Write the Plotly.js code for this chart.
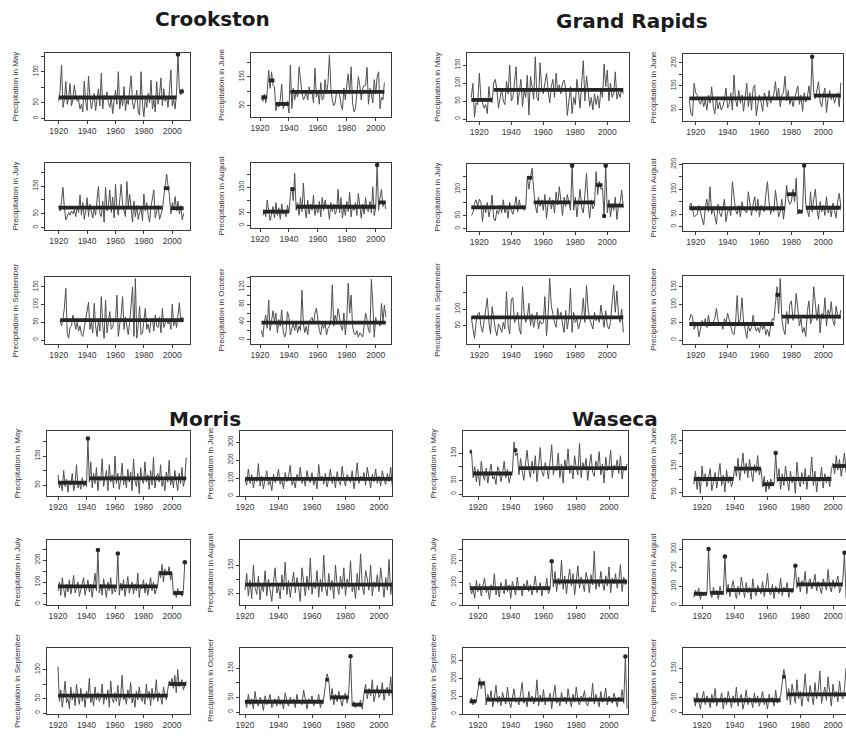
<!DOCTYPE html>
<html>
<head>
<meta charset="utf-8">
<script src="https://cdn.plot.ly/plotly-3.0.1.min.js"></script>
<style>
  html, body { margin: 0; padding: 0; background: #fff; overflow: hidden; }
  #chart { width: 846px; height: 737px; }
</style>
</head>
<body>
<div id="chart"></div>
<script>
// Monthly precipitation series (one value per year) with change-point segment means.
// Each series has a first year; segments are [firstYear, lastYear, mean].

// ---------- Crookston ----------
const crookstonMayStart = 1920;
const crookstonMay = [55,90,171,35,60,118,45,70,112,40, 60,107,75,55,60,30,45,20,120,55,
  25,136,70,30,55,80,25,60,95,40, 145,30,75,60,85,50,35,70,15,55, 90,45,150,30,70,40,102,25,60,45,
  85,137,50,30,60,90,20,10,150,45, 5,70,35,80,50,123,30,60,20,118, 45,75,130,40,95,55,70,35,90,155,
  40,60,30,85,205,90,75,95,84];
const crookstonMaySegments = [[1920,2003,67],[2004,2004,205],[2005,2008,86]];

const crookstonJuneStart = 1921;
const crookstonJune = [78,65,90,60,100,173,110,167,120,115, 33,60,45,70,124,40,55,50,65,25,
  190,40,110,70,100,80,184,130,95,70, 80,100,70,115,90,95,60,179,80,100, 55,130,70,75,140,90,130,225,110,70,
  50,60,100,95,90,55,35,110,70,120, 160,90,184,60,29,40,90,150,120,70, 110,120,120,182,55,110,90,60,140,90,
  150,167,40,80,70,130];
const crookstonJuneSegments = [[1921,1925,79],[1926,1930,137],[1931,1940,56],[1941,2006,98]];

const crookstonJulyStart = 1920;
const crookstonJuly = [80,60,95,145,70,28,40,55,45,60, 50,65,40,75,55,118,45,90,30,60,
  108,40,85,55,35,70,45,100,148,50, 40,95,20,145,60,80,136,55,110,35, 156,70,45,100,156,85,60,40,166,75,
  120,65,20,95,40,80,30,55,70,25, 121,60,90,45,20,75,100,136,35,60, 80,30,50,65,110,145,193,150,115,50,
  90,70,112,60,95,50,80,28,52];
const crookstonJulySegments = [[1920,1993,72],[1994,1998,142],[1999,2008,70]];

const crookstonAugustStart = 1922;
const crookstonAugust = [40,55,35,100,60,20,45,75,30, 90,40,70,25,85,45,60,35,80,50,
  120,150,98,205, 60,90,40,110,55,166, 70,30,100,45,85,60,120,40,75,50, 95,35,110,60,100,70,70,25,90,55,
  85,45,60,142,50,110,30,75,40,95, 55,130,35,80,60,90,40,126,65,30, 85,45,110,60,55,95,50,152,40,70,
  237, 60,110,142,75,95,65];
const crookstonAugustSegments = [[1922,1940,55],[1941,1944,143],[1945,2000,74],[2001,2001,237],[2002,2007,91]];

const crookstonSeptemberStart = 1921;
const crookstonSeptember = [55,40,60,90,145,20,5,35,40,70, 55,30,50,25,40,15,10,35,60,94,
  106,30,50,20,103,40,10,60,25,122, 40,5,112,20,45,80,30,35,60,50, 126,10,45,70,122,30,65,40,15,50,
  95,150,10,173,5,40,94,15,20,60, 89,30,45,20,55,60,25,70,40,35, 65,20,89,35,50,60,45,55,30,101,
  40,60,35,70,105,50,65,60];
const crookstonSeptemberSegments = [[1921,2008,56]];

const crookstonOctoberStart = 1921;
const crookstonOctober = [20,5,40,55,25,90,20,50,65,40, 60,15,45,30,67,20,5,15,63,50,
  10,25,35,20,40,15,30,20,112,35, 15,30,10,40,45,50,35,60,71,45, 20,10,35,25,40,10,25,30,45,124,
  30,55,40,70,45,30,20,60,10,45, 128,60,101,30,15,10,20,5,15,10, 5,30,60,45,20,15,137,80,5,50,
  35,40,30,82,40,78,50];
const crookstonOctoberSegments = [[1921,2007,38]];

// ---------- Grand Rapids ----------
const grandRapidsMayStart = 1915;
const grandRapidsMay = [60,99,5,45,40,127,60,45,30,40,15,90,50,45,
  100,110, 80,30,60,85,50,40,105,70,150,50, 60,100,145,40,70,110,35,80,60,122,
  11,118,90,55,173,60,50,156,85,70, 100,127,80,45,90,110,60,127,75,95, 70,100,108,85,10,55,90,15,60,40,
  110,75,30,100,162,50,120,80,35,60, 25,70,40,65,30,85,60,153,90,136, 50,100,60,70,131,55,75,60,85,70];
const grandRapidsMaySegments = [[1915,1928,53],[1929,2010,81]];

const grandRapidsJuneStart = 1916;
const grandRapidsJune = [90,30,20,161,120, 110,85,70,100,60,90,45,110,75,146, 60,30,100,50,80,45,60,90,140,55,
  70,120,45,197,90,60,130,75,110,40, 90,161,60,120,45,140,154,20,70,110, 80,40,120,100,60,130,75,95,115,168,
  90,140,60,110,120,192,85,130,70,100, 60,95,130,150,70,110,40,120,80,100, 150,90, 276,
  120,95,130,168,80,60,110,140,35,100,130,90,115,75,100,120,60,164];
const grandRapidsJuneSegments = [[1916,1992,96],[1993,1993,276],[1994,2011,108]];

const grandRapidsJulyStart = 1915;
const grandRapidsJuly = [50,60,95,110,85,112,100,27,90,60, 100,45,75,128,40,30,70,55,90,60,
  110,60,85,40,100,70,55,95,122,65, 110,75,90,70,80, 200,150,195,230,
  147,90,60,120,85,110,70,130,40,95,120,75,110,60,140,90,160,110,50,120,85,130,100,70, 240,
  70,120,45,100,150,80,60,130,211,95,40,110,75,90, 217,130,180,150,155, 48, 240,
  60,110,45,95,70,120,35,90,100,147,80];
const grandRapidsJulySegments = [[1915,1949,81],[1950,1953,194],[1954,1977,100],[1978,1978,240],
  [1979,1992,100],[1993,1997,166],[1998,1998,48],[1999,1999,240],[2000,2010,88]];

const grandRapidsAugustStart = 1916;
const grandRapidsAugust = [80,95,70,40,45,50,85,60,30,7, 75,110,60,160,50,80,40,10,90,55,
  40,70,110,20,60,75,45,180,110,65, 50,85,40,100,70,60,55,140,80,45, 90,120,60,110,40,85,70,60,130,180,
  95,50,75,60,147,85,40,60,110,30,80, 167,110,90,100,150,100,194, 50,70,60,60, 245,
  90,60,40,140,60,110,150,70,30,100,60,85,45,120,55,80,40,95,65,35,100,134,80];
const grandRapidsAugustSegments = [[1916,1976,74],[1977,1983,130],[1984,1987,60],[1988,1988,245],[1989,2011,76]];

const grandRapidsSeptemberStart = 1915;
const grandRapidsSeptember = [75,40,12,60,85,90,50,30,70,95, 132,60,25,107,70,40,20,55,45,30,
  60,40,152,50,25,130,134,60,70,90, 40,25,167,90,60,75,117,50,85,45, 70,90,40,65,55,60,137,20,80,192,
  110,80,60,45,102,70,90,55,30,95, 40,75,162,30,90,60,70,40,60,80, 132,60,170,100,70,55,40,90,65,80,
  60,112,70,45,95,50,40,60,120,172, 90,154,85,60,100,30];
const grandRapidsSeptemberSegments = [[1915,2010,75]];

const grandRapidsOctoberStart = 1916;
const grandRapidsOctober = [55,72,65,30,40,45,9,30,55,40, 60,35,70,40,45,50,60,89,55,40,
  50,30,60,45,75,60,40,20,15,50, 125,40,60,119,50,30,5,40,25,35, 70,40,25,35,20,50,30,45,15,30, 10,40,60,55,
  110,150,75,173, 60,30,15,80,45,100,110,55,70,131, 90,40,60,20,35,10,80,110,45,60,
  150,90,55,100,20,75,60,119,40,85, 70,108,55,40,95,70,60,85];
const grandRapidsOctoberSegments = [[1916,1969,45],[1970,1973,127],[1974,2011,66]];

// ---------- Morris ----------
const morrisMayStart = 1920;
const morrisMay = [85,40,60,30,100,45,70,25,65,50, 90,30,55,120,40,60,35,75,45,55, 45, 210,
  60,130,40,90,55,110,30,80,65,140, 45,75,100,30,120,60,85,40,150,55, 90,35,70,125,50,80,40,105,60,95,
  30,140,65,45,90,20,110,70,55,130, 60,85,35,100,50,145,40,75,90,60, 120,45,70,30,95,60,135,50,80,40,
  100,65,30,90,55,110,45,70,145];
const morrisMaySegments = [[1920,1940,58],[1941,1941,210],[1942,2010,73]];

const morrisJuneStart = 1920;
const morrisJune = [90,60,150,70,120,45,100,80,180,55, 110,40,95,140,60,85,30,120,75,100,
  150,65,95,40,130,80,110,170,60,90, 45,120,85,160,70,100,55,140,90,75, 130,60,100,40,175,85,110,65,125,50,
  95,150,70,110,45,135,80,60,165,90, 55,120,100,75,140,40,95,185,70,110, 85,130,60,160,100,45,120,80,150,70,
  110,55,140,90,65,125,80,160,50,100,85];
const morrisJuneSegments = [[1920,2010,95]];

const morrisJulyStart = 1920;
const morrisJuly = [60,100,40,120,70,30,90,55,110,45, 80,130,50,70,100,35,60,95,120,40,
  75,110,55,90,30,85,140,60, 245, 50,90,40,115,70,30,100,60,120,45,85,55,70, 230,
  40,95,60,110,35,80,125,50,70,100,45,90,60,140,30,85,70,110,50,95,40,80,120,60,100,45,75,90,
  150,120,180,100,160,130,140,170,110,140, 40,60,30,70,45,55,35,65, 190];
const morrisJulySegments = [[1920,1947,80],[1948,1948,245],[1949,1961,80],[1962,1962,230],[1963,1990,80],
  [1991,2000,140],[2001,2008,50],[2009,2009,190]];

const morrisAugustStart = 1920;
const morrisAugust = [60,120,40,95,30,150,70,45,110,25, 85,55,130,40,100,65,20,90,140,50,
  75,30,115,60,160,45,95,35,80,125, 50,105,70,20,140,85,40,110,60,175, 45,90,65,130,35,100,55,185,70,40,
  120,60,95,30,150,80,45,110,65,140, 40,100,70,165,55,85,30,120,60,190, 75,45,130,100,60,150,40,90,70,115,
  55,140,80,35,105,60,170,45,95,65,120];
const morrisAugustSegments = [[1920,2010,80]];

const morrisSeptemberStart = 1920;
const morrisSeptember = [160,40,80,20,60,110,35,50,15,90, 45,70,25,100,55,30,85,40,65,20,
  75,50,120,35,60,25,90,45,70,40, 55,100,30,65,45,80,20,110,50,35, 70,40,95,25,60,130,45,55,30,80,
  50,105,35,60,20,75,45,90,55,40, 65,30,100,50,75,25,85,45,60,115, 40,70,55,30,90,60,45,80,110,95,
  120,85,130,70,150,90,100,115,80,95,110];
const morrisSeptemberSegments = [[1920,1997,60],[1998,2010,100]];

const morrisOctoberStart = 1920;
const morrisOctober = [40,15,60,25,45,10,70,30,20,50, 35,5,55,25,40,60,15,30,45,20,
  55,25,40,10,65,35,20,50,30,45, 15,60,30,40,25,75,35,10,45,30, 55,20,40,30,60,15,35,45,
  90,130,110, 40,80,25,60,35,70,45,20,55,65,30,75, 190, 20,35,15,30,25,40,10,
  60,95,45,80,55,110,35,70,90,50,65,100,40,75,85,55,120,45,70,80];
const morrisOctoberSegments = [[1920,1967,35],[1968,1970,110],[1971,1982,50],[1983,1983,190],[1984,1990,25],[1991,2010,70]];

// ---------- Waseca ----------
const wasecaMayStart = 1915;
const wasecaMay = [150,160, 60,100,45,90,30,120,70,50,95,40,80,110,55,65,35,100,85,45,75,120,60,90,40,70,80,
  190,140,150,
  70,130,85,50,110,160,90,60,120,75, 140,45,100,170,80,65,115,95,55,135, 180,70,100,85,150,60,110,40,125,90,
  165,75,105,55,140,95,70,185,60,115, 90,130,50,100,145,80,65,120,95,155, 70,110,40,135,85,100,160,60,105,90,
  125,75,140,55,100,85,110];
const wasecaMaySegments = [[1915,1916,155],[1917,1941,75],[1942,1944,160],[1945,2011,95]];

const wasecaJuneStart = 1915;
const wasecaJune = [80,130,60,110,45,150,90,120,70,100,140,55,95,125,65,105,160,75,115,50,135,85,110,70,95,
  150,110,180,95,140,200,120,160,105,175,130,90,155,125,190,115,140,
  70,110,50,95,60,100,75,80, 200,
  90,140,60,120,75,150,100,55,130,85,110,45,165,95,70,125,80,140,60,115,100,185,75,130,50,105,90,145,65,120,85,110,70,135,
  160,120,190,135,175,110,150,200,125,145,170,115];
const wasecaJuneSegments = [[1915,1939,100],[1940,1956,140],[1957,1964,80],[1965,1965,200],[1966,1999,100],[2000,2011,150]];

const wasecaJulyStart = 1915;
const wasecaJuly = [100,50,70,30,110,60,95,40,85,120, 55,75,25,90,65,140,45,80,35,100,
  70,50,115,60,90,30,105,75,45,125, 65,85,40,95,70,110,60,90,45,80, 130,55,75,100,40,85,65,120,50,70,
  195,
  80,150,60,120,90,200,70,130,50,110, 160,85,140,45,100,175,75,125,95,60, 145,110,55,135,90,240,70,115,80,150,
  100,65,130,85,170,55,120,95,140,75, 110,180,60,125,90,105];
const wasecaJulySegments = [[1915,1964,75],[1965,1965,195],[1966,2011,105]];

const wasecaAugustStart = 1915;
const wasecaAugust = [40,80,55,90,30,70,50,65,60, 300, 70,40,95,55,80,30,100,60,55, 260,
  60,110,45,90,130,70,35,100,55,150,80,40,120,65,95,30,140,75,50,105,85,60,125,45,90,170,70,55,110,35,100,80,60,145,50,95,75,120,40,85,65,100,
  210,
  90,150,70,130,100,180,60,120,140,85,110,165,75,125,95,60,140,115,80,190,100,70,135,90,120,155,65,105,130,
  280, 40,60,45,55];
const wasecaAugustSegments = [[1915,1923,60],[1924,1924,300],[1925,1933,65],[1934,1934,260],[1935,1976,80],
  [1977,1977,210],[1978,2006,110],[2007,2007,280],[2008,2011,50]];

const wasecaSeptemberStart = 1915;
const wasecaSeptember = [60,90,50,80,70, 150,200,140,180,180,
  50,110,70,130,40,90,160,60,100,45, 120,80,55,150,70,35,95,140,65,85, 50,110,175,60,90,40,125,70,100,55,
  80,190,45,105,65,135,50,90,75,115, 30,100,160,60,85,45,120,70,95,55, 140,80,40,110,65,150,75,50,100,85,
  130,60,45,95,70,170,55,110,80,40, 125,65,90,145,50,100,75,60,115,85, 40,95,70,135,60,
  320, 30];
const wasecaSeptemberSegments = [[1915,1919,70],[1920,1924,170],[1925,2009,80],[2010,2010,320]];

const wasecaOctoberStart = 1915;
const wasecaOctober = [50,20,65,35,10,45,70,25,55,40,15,60,30,80,20,45,35,65,10,50,25,70,40,15,55,30,85,
  20,45,60,10,35,75,25,50,40,15,65,30,55,20,45,70,25,40,10,60,35,50,20,75,30,45,55,
  100,145,115,
  40,80,25,95,55,30,110,45,70,20,65,130,50,35,90,60,25,100,45,75,140,30,55,85,40,120,65,20,95,50,70,35,105,60,45,80,150,40,70,55];
const wasecaOctoberSegments = [[1915,1968,40],[1969,1971,120],[1972,2011,60]];

// ---------- Station titles and month labels ----------
const stations = ['Crookston', 'Grand Rapids', 'Morris', 'Waseca'];
const months = ['May', 'June', 'July', 'August', 'September', 'October'];
const yearTicks = [1920, 1940, 1960, 1980, 2000];

// ---------- Panel geometry (pixels in an 846 x 737 page) ----------
const W = 846, H = 737;
const FONT = 'Liberation Sans, Arial, sans-serif';

// box: [left, right, top, bottom]; xcal/ycal: two (value, pixel) pairs; yt: tick values
const panels = [
  // Crookston
  {s: crookstonMay, st: crookstonMayStart, seg: crookstonMaySegments, m: months[0],
   box: [45, 190, 53, 120], xcal: [1920, 58.7, 2000, 172.3], ycal: [0, 118.3, 150, 71.7], yt: [0, 50, 100, 150, 200]},
  {s: crookstonJune, st: crookstonJuneStart, seg: crookstonJuneSegments, m: months[1],
   box: [251, 391, 53, 117], xcal: [1920, 260, 2000, 375.7], ycal: [50, 105.7, 150, 76.7], yt: [50, 100, 150, 200]},
  {s: crookstonJuly, st: crookstonJulyStart, seg: crookstonJulySegments, m: months[2],
   box: [45, 190, 163, 230], xcal: [1920, 58.7, 2000, 172.3], ycal: [0, 227.7, 150, 186], yt: [0, 50, 100, 150, 200]},
  {s: crookstonAugust, st: crookstonAugustStart, seg: crookstonAugustSegments, m: months[3],
   box: [251, 391, 163, 228], xcal: [1920, 260, 2000, 375.7], ycal: [0, 225.7, 150, 187.3], yt: [0, 50, 100, 150, 200]},
  {s: crookstonSeptember, st: crookstonSeptemberStart, seg: crookstonSeptemberSegments, m: months[4],
   box: [45, 190, 277, 344], xcal: [1920, 58.7, 2000, 172.3], ycal: [0, 340, 150, 286.7], yt: [0, 50, 100, 150]},
  {s: crookstonOctober, st: crookstonOctoberStart, seg: crookstonOctoberSegments, m: months[5],
   box: [251, 391, 277, 344], xcal: [1920, 260, 2000, 375.7], ycal: [0, 339.3, 120, 286.7], yt: [0, 20, 40, 60, 80, 100, 120, 140]},
  // Grand Rapids
  {s: grandRapidsMay, st: grandRapidsMayStart, seg: grandRapidsMaySegments, m: months[0],
   box: [467, 629, 53, 121], xcal: [1920, 479.3, 2000, 607.3], ycal: [0, 119, 150, 65], yt: [0, 50, 100, 150]},
  {s: grandRapidsJune, st: grandRapidsJuneStart, seg: grandRapidsJuneSegments, m: months[1],
   box: [683, 843, 54, 121], xcal: [1920, 695.7, 2000, 823.3], ycal: [50, 109, 250, 62.7], yt: [50, 100, 150, 200, 250]},
  {s: grandRapidsJuly, st: grandRapidsJulyStart, seg: grandRapidsJulySegments, m: months[2],
   box: [467, 629, 164, 231], xcal: [1920, 479.3, 2000, 607.3], ycal: [0, 228.7, 150, 189.3], yt: [0, 50, 100, 150, 200]},
  {s: grandRapidsAugust, st: grandRapidsAugustStart, seg: grandRapidsAugustSegments, m: months[3],
   box: [683, 843, 164, 231], xcal: [1920, 695.7, 2000, 823.3], ycal: [0, 226.7, 250, 164.3], yt: [0, 50, 100, 150, 200, 250]},
  {s: grandRapidsSeptember, st: grandRapidsSeptemberStart, seg: grandRapidsSeptemberSegments, m: months[4],
   box: [467, 629, 276, 344], xcal: [1920, 479.3, 2000, 607.3], ycal: [50, 325.7, 100, 309], yt: [50, 100, 150]},
  {s: grandRapidsOctober, st: grandRapidsOctoberStart, seg: grandRapidsOctoberSegments, m: months[5],
   box: [683, 843, 276, 344], xcal: [1920, 695.7, 2000, 823.3], ycal: [0, 340, 150, 286.7], yt: [0, 50, 100, 150]},
  // Morris
  {s: morrisMay, st: morrisMayStart, seg: morrisMaySegments, m: months[0],
   box: [47, 190, 431, 496], xcal: [1920, 58, 2000, 172], ycal: [50, 485, 150, 456], yt: [0, 50, 100, 150, 200]},
  {s: morrisJune, st: morrisJuneStart, seg: morrisJuneSegments, m: months[1],
   box: [240, 392, 431, 496], xcal: [1920, 245, 2000, 379], ycal: [0, 496, 300, 442], yt: [0, 100, 200, 300]},
  {s: morrisJuly, st: morrisJulyStart, seg: morrisJulySegments, m: months[2],
   box: [47, 190, 540, 605], xcal: [1920, 58, 2000, 172], ycal: [0, 604, 250, 549], yt: [0, 50, 100, 150, 200, 250]},
  {s: morrisAugust, st: morrisAugustStart, seg: morrisAugustSegments, m: months[3],
   box: [240, 392, 540, 605], xcal: [1920, 245, 2000, 379], ycal: [50, 593, 150, 565], yt: [50, 100, 150]},
  {s: morrisSeptember, st: morrisSeptemberStart, seg: morrisSeptemberSegments, m: months[4],
   box: [47, 190, 648, 714], xcal: [1920, 58, 2000, 172], ycal: [0, 713, 100, 684], yt: [0, 50, 100, 150]},
  {s: morrisOctober, st: morrisOctoberStart, seg: morrisOctoberSegments, m: months[5],
   box: [240, 392, 648, 714], xcal: [1920, 245, 2000, 379], ycal: [0, 712, 150, 668], yt: [0, 50, 100, 150]},
  // Waseca
  {s: wasecaMay, st: wasecaMayStart, seg: wasecaMaySegments, m: months[0],
   box: [463, 628, 431, 496], xcal: [1920, 478, 2000, 609], ycal: [0, 494, 150, 453], yt: [0, 50, 100, 150]},
  {s: wasecaJune, st: wasecaJuneStart, seg: wasecaJuneSegments, m: months[1],
   box: [683, 846, 431, 496], xcal: [1920, 702, 2000, 833], ycal: [100, 479, 250, 440], yt: [50, 100, 150, 200, 250], cut: true},
  {s: wasecaJuly, st: wasecaJulyStart, seg: wasecaJulySegments, m: months[2],
   box: [463, 628, 540, 605], xcal: [1920, 478, 2000, 609], ycal: [0, 605, 250, 549], yt: [0, 50, 100, 150, 200, 250]},
  {s: wasecaAugust, st: wasecaAugustStart, seg: wasecaAugustSegments, m: months[3],
   box: [683, 846, 540, 605], xcal: [1920, 702, 2000, 833], ycal: [0, 605, 300, 549], yt: [0, 100, 200, 300], cut: true},
  {s: wasecaSeptember, st: wasecaSeptemberStart, seg: wasecaSeptemberSegments, m: months[4],
   box: [463, 628, 648, 714], xcal: [1920, 478, 2000, 609], ycal: [0, 714, 300, 660], yt: [0, 100, 200, 300]},
  {s: wasecaOctober, st: wasecaOctoberStart, seg: wasecaOctoberSegments, m: months[5],
   box: [683, 846, 648, 714], xcal: [1920, 702, 2000, 833], ycal: [0, 712, 150, 668], yt: [0, 50, 100, 150], cut: true}
];

const stationTitles = [
  {text: stations[0], x: 213, y: 19},
  {text: stations[1], x: 632, y: 21},
  {text: stations[2], x: 205, y: 419},
  {text: stations[3], x: 615, y: 419}
];

// ---------- Build figure ----------
function toVal(cal, p) {
  const [v1, p1, v2, p2] = cal;
  return v1 + (p - p1) * (v2 - v1) / (p2 - p1);
}
function toPix(cal, v) {
  const [v1, p1, v2, p2] = cal;
  return p1 + (v - v1) * (p2 - p1) / (v2 - v1);
}

// Rotated y tick labels: a label is skipped when it would crowd the previous drawn one.
function yTickLabels(p) {
  let lastPos = null, lastLen = 0;
  return p.yt.map(v => {
    const pos = toPix(p.ycal, v);
    const txt = String(v);
    if (pos > p.box[3] + 0.5 || pos < p.box[2] - 0.5) return '';
    const need = (lastLen + txt.length) / 2 * 3.5 + 7;
    if (lastPos === null || Math.abs(lastPos - pos) >= need) {
      lastPos = pos; lastLen = txt.length;
      return txt;
    }
    return '';
  });
}

const traces = [];
const layout = {
  width: W, height: H,
  margin: {l: 0, r: 0, t: 0, b: 0},
  paper_bgcolor: '#ffffff', plot_bgcolor: '#ffffff',
  showlegend: false,
  font: {family: FONT, color: '#333'},
  annotations: []
};

panels.forEach((p, i) => {
  const n = i + 1;
  const xk = n === 1 ? 'xaxis' : 'xaxis' + n;
  const yk = n === 1 ? 'yaxis' : 'yaxis' + n;
  const xr = 'x' + (n === 1 ? '' : n);
  const yr = 'y' + (n === 1 ? '' : n);
  const [L, R, T, B] = p.box;

  const years = p.s.map((_, k) => p.st + k);
  traces.push({
    type: 'scatter', mode: 'lines', x: years, y: p.s, xaxis: xr, yaxis: yr,
    line: {color: '#505050', width: 1}, hoverinfo: 'skip'
  });

  // segment means: multi-year segments as thick bars, single years as points
  const sx = [], sy = [], px = [], py = [];
  p.seg.forEach(([a, b, v]) => {
    if (a === b) { px.push(a); py.push(v); }
    else { sx.push(a, b, null); sy.push(v, v, null); }
  });
  traces.push({
    type: 'scatter', mode: 'lines', x: sx, y: sy, xaxis: xr, yaxis: yr,
    line: {color: '#262626', width: 3.8}, hoverinfo: 'skip'
  });
  if (px.length) {
    traces.push({
      type: 'scatter', mode: 'markers', x: px, y: py, xaxis: xr, yaxis: yr,
      marker: {color: '#262626', size: 4.5, symbol: 'circle'}, hoverinfo: 'skip'
    });
  }

  const axisCommon = {
    showgrid: false, zeroline: false, showline: true, linecolor: '#3a3a3a', linewidth: 1,
    ticks: 'outside', ticklen: 3, tickwidth: 1, tickcolor: '#3a3a3a', fixedrange: true
  };
  layout[xk] = Object.assign({}, axisCommon, {
    domain: [L / W, Math.min(R, W) / W],
    range: [toVal(p.xcal, L), toVal(p.xcal, R)],
    anchor: yr, tickmode: 'array', tickvals: yearTicks, ticktext: yearTicks.map(String),
    tickfont: {size: 8.5, family: FONT, color: '#333'}, mirror: true
  });
  layout[yk] = Object.assign({}, axisCommon, {
    domain: [1 - B / H, 1 - T / H],
    range: [toVal(p.ycal, B), toVal(p.ycal, T)],
    anchor: xr, tickmode: 'array', tickvals: p.yt, ticktext: yTickLabels(p), tickangle: -90,
    tickfont: {size: 6.5, family: FONT, color: '#333'}, mirror: p.cut ? false : true
  });

  layout.annotations.push({
    xref: 'paper', yref: 'paper', x: (L - 30) / W, y: 1 - ((T + B) / 2) / H,
    text: 'Precipitation in ' + p.m, textangle: -90, showarrow: false,
    xanchor: 'center', yanchor: 'middle',
    font: {size: 8, family: FONT, color: '#333'}
  });
});

stationTitles.forEach(t => {
  layout.annotations.push({
    xref: 'paper', yref: 'paper', x: t.x / W, y: 1 - t.y / H,
    text: '<b>' + t.text + '</b>', showarrow: false, xanchor: 'center', yanchor: 'middle',
    font: {size: 20, family: 'DejaVu Sans, Liberation Sans, sans-serif', color: '#1a1a1a'}
  });
});

Plotly.newPlot('chart', traces, layout, {staticPlot: true, displayModeBar: false});
</script>
</body>
</html>
